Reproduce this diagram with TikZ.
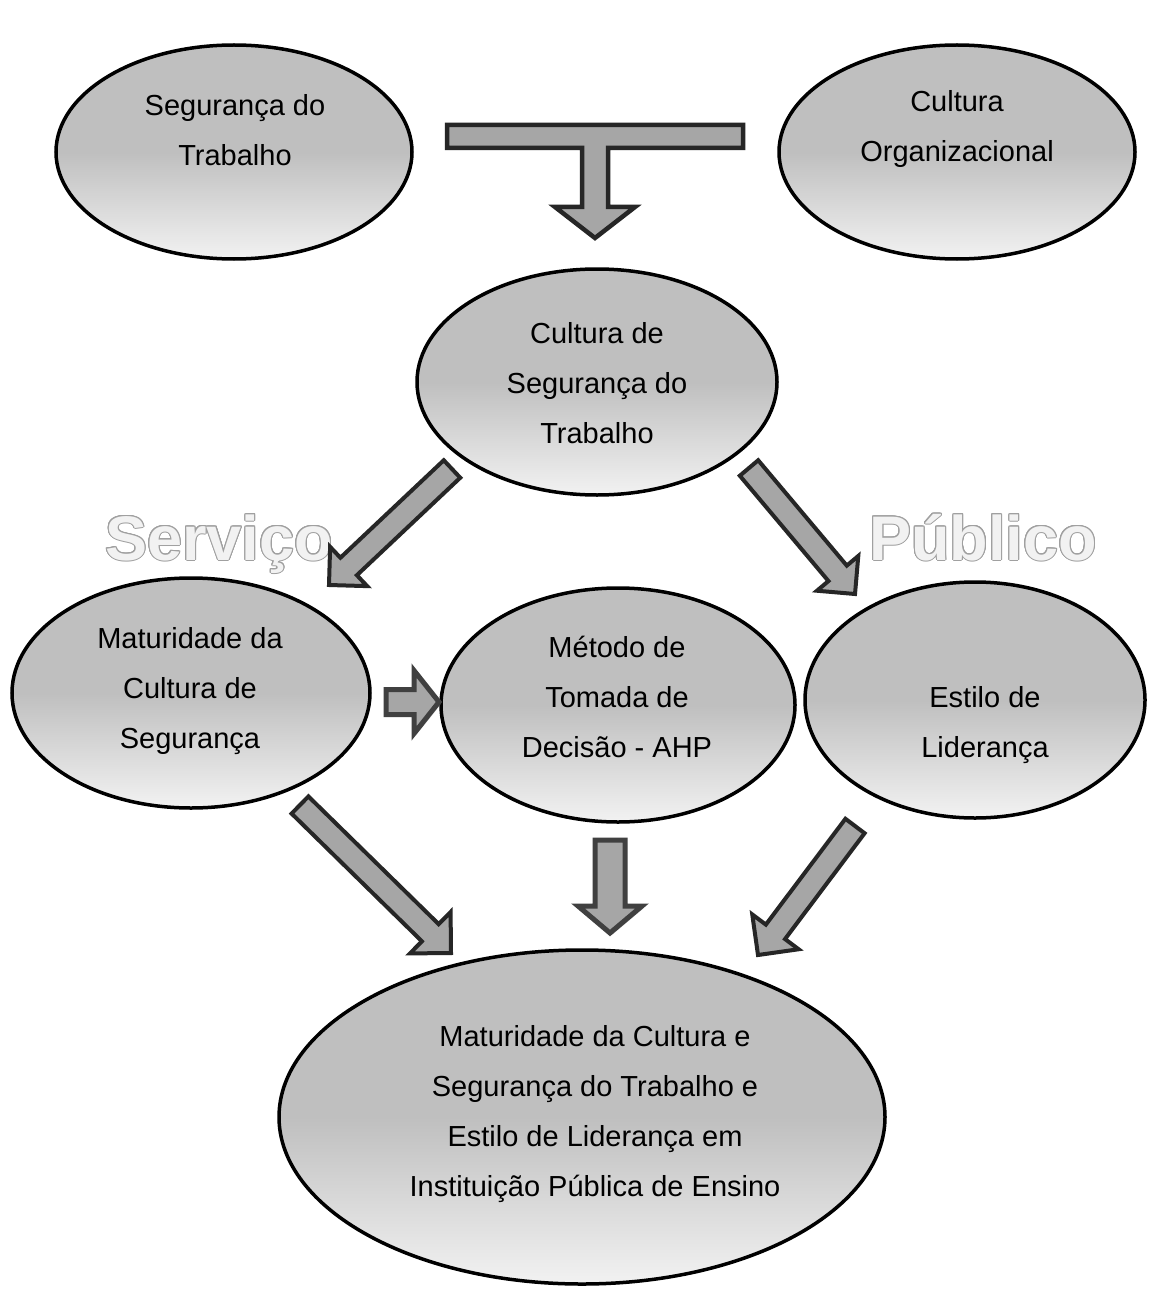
\documentclass[tikz,border=0pt]{standalone}
\usepackage{fontspec}
\setmainfont{Liberation Sans}
\usetikzlibrary{shapes.geometric,calc,shadows}
\definecolor{arrfill}{HTML}{A6A6A6}
\definecolor{arrline}{HTML}{262626}
\definecolor{arrlinesoft}{HTML}{404040}
\definecolor{elltop}{HTML}{BFBFBF}
\definecolor{ellbot}{HTML}{F2F2F2}
\definecolor{outl}{HTML}{A0A0A0}
\definecolor{outfill}{HTML}{F2F2F2}
% block arrow: #1 extra options, #2 name, #3 tail, #4 tip, #5 shaft half width, #6 head half width, #7 head length
\newcommand\blockarr[7][]{%
  \coordinate (#2-n) at ($(#4)!#7!(#3)$);
  \draw[blockarrow,#1] ($(#3)!#5!90:(#4)$) -- ($(#2-n)!#5!90:(#4)$) -- ($(#2-n)!#6!90:(#4)$) -- (#4)
     -- ($(#2-n)!#6!-90:(#4)$) -- ($(#2-n)!#5!-90:(#4)$) -- ($(#3)!#5!-90:(#4)$) -- cycle;
}
\begin{document}
\begin{tikzpicture}[x=1pt,y=1pt,
  ell/.style={ellipse, draw=black, line width=3.5pt, top color=elltop, bottom color=ellbot, middle color=elltop, inner sep=0pt},
  txt/.style={align=center, font=\fontsize{29}{50}\selectfont, inner sep=0pt},
  blockarrow/.style={draw=arrline, fill=arrfill, line width=4pt, line join=miter},
  softarrow/.style={draw=arrlinesoft, line width=5pt, drop shadow={opacity=0.25, shadow xshift=2pt, shadow yshift=-2pt}},
  bigword/.style={font=\fontsize{63}{63}\selectfont\bfseries, inner sep=0pt, anchor=base west}
]
\useasboundingbox (0,0) rectangle (1154,-1289);
\fill[white] (0,0) rectangle (1154,-1289);

% ellipses
\node[ell, minimum width=356pt, minimum height=214pt] (e1) at (234,-152) {};
\node[ell, minimum width=356pt, minimum height=214pt] (e2) at (957,-152) {};
\node[ell, minimum width=360pt, minimum height=226pt] (e3) at (597,-382) {};
\node[ell, minimum width=358pt, minimum height=230pt] (e4) at (191,-693) {};
\node[ell, minimum width=354pt, minimum height=234pt] (e5) at (618,-705) {};
\node[ell, minimum width=340pt, minimum height=236pt] (e6) at (975,-700) {};
\node[ell, minimum width=606pt, minimum height=334pt] (e7) at (582,-1117) {};

% texts
\node[txt] (t1) at (235,-130) {Segurança do\\Trabalho};
\node[txt] (t2) at (957,-129) {Cultura\\Organizacional};
\node[txt] (t3) at (597,-383) {Cultura de\\Segurança do\\Trabalho};
\node[txt] (t4) at (190,-691) {Maturidade da\\Cultura de\\Segurança};
\node[txt] (t5) at (617,-697) {Método de\\Tomada de\\Decisão - AHP};
\node[txt] (t6) at (985,-725) {Estilo de\\Liderança};
\node[txt] (t7) at (595,-1114) {Maturidade da Cultura e\\Segurança do Trabalho e\\Estilo de Liderança em\\Instituição Pública de Ensino};

% outlined words
\foreach \i in {1,...,16} {
  \node[bigword, text=outl] (svo\i) at ($(105,-560)+(\i*22.5:1.0)$) {Serviço};
  \node[bigword, text=outl] (pbo\i) at ($(869,-560)+(\i*22.5:1.0)$) {Público};
}
\node[bigword, text=outfill] (sv) at (105,-560) {Serviço};
\node[bigword, text=outfill] (pb) at (869,-560) {Público};

% T-shaped arrow
\draw[blockarrow, line width=4.5pt] (447,-125) -- (743,-125) -- (743,-148) -- (608,-148) -- (608,-207)
  -- (635,-207) -- (595,-238) -- (555,-207) -- (582,-207) -- (582,-148) -- (447,-148) -- cycle;

% arrow end coordinates
\coordinate (aT) at (452,-469);  \coordinate (aH) at (329,-585);
\coordinate (bT) at (749,-468);  \coordinate (bH) at (855,-594);
\coordinate (cT) at (300,-805);  \coordinate (cH) at (451,-953);
\coordinate (dT) at (610,-840);  \coordinate (dH) at (610,-933);
\coordinate (eT) at (855,-826);  \coordinate (eH) at (758,-955);
\coordinate (fT) at (386,-702);  \coordinate (fH) at (439,-702);

\blockarr{A}{aT}{aH}{12pt}{27pt}{27pt}
\blockarr{B}{bT}{bH}{12pt}{27pt}{27pt}
\blockarr{C}{cT}{cH}{12pt}{29pt}{29pt}
\blockarr{E}{eT}{eH}{12pt}{29pt}{29pt}
\blockarr[softarrow]{D}{dT}{dH}{15pt}{32pt}{27pt}
\blockarr[softarrow]{F}{fT}{fH}{12.5pt}{31.5pt}{25pt}
\end{tikzpicture}
\end{document}
